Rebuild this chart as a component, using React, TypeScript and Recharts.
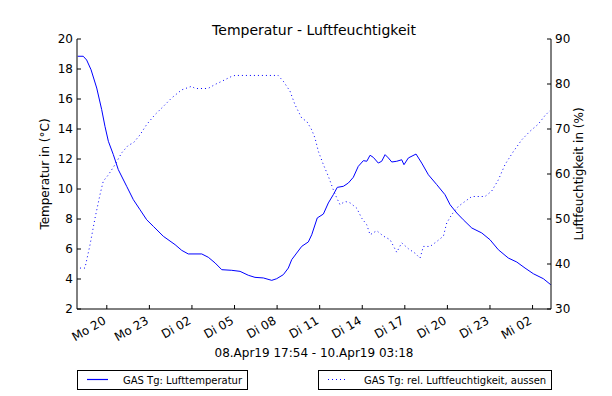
import React from 'react';
import { LineChart, Line, XAxis, YAxis } from 'recharts';

// hours counted from Mo 00:00
const tempHours = [17.95, 18.34, 18.58, 18.89, 19.29, 19.64, 19.87, 20.11, 20.46, 20.81, 21.4, 21.87, 22.34, 22.81, 23.28, 23.98, 24.81, 25.28, 25.74, 26.69, 27.15, 27.63, 28.1, 28.8, 29.39, 29.97, 30.44, 31.03, 31.62, 31.97, 32.44, 32.79, 33.03, 33.38, 33.74, 34.2, 34.44, 34.83, 35.26, 35.61, 35.96, 36.24, 36.67, 37.02, 37.37, 37.72, 38.08, 38.32, 38.55, 38.78, 39.13, 39.37, 39.61, 39.84, 40.08, 40.43, 40.78, 40.94, 41.25, 41.79, 42.19, 42.66, 43.25, 43.83, 44.19, 44.66, 45.12, 45.72, 46.42, 47.0, 47.59, 48.29, 48.89, 49.47, 50.06, 50.76, 51.28];
const tempValues = [18.85, 18.85, 18.6, 17.95, 16.73, 15.29, 14.18, 13.18, 12.29, 11.29, 10.18, 9.29, 8.62, 7.95, 7.51, 6.85, 6.29, 5.91, 5.67, 5.67, 5.45, 5.07, 4.62, 4.58, 4.51, 4.25, 4.11, 4.07, 3.91, 4.02, 4.29, 4.73, 5.29, 5.73, 6.18, 6.47, 6.95, 8.07, 8.33, 9.07, 9.62, 10.11, 10.18, 10.4, 10.78, 11.51, 11.89, 11.85, 12.25, 12.11, 11.73, 11.85, 12.29, 12.07, 11.8, 11.85, 11.95, 11.62, 12.07, 12.33, 11.73, 10.95, 10.29, 9.62, 8.95, 8.4, 7.95, 7.4, 7.07, 6.62, 5.95, 5.4, 5.13, 4.73, 4.35, 4.02, 3.62];

const humHours = [18.11, 18.46, 18.82, 19.17, 19.52, 19.75, 20.11, 20.58, 21.05, 21.52, 21.87, 22.34, 22.81, 23.4, 23.98, 24.57, 25.28, 25.98, 26.22, 27.13, 27.63, 28.1, 28.8, 29.03, 32.07, 32.44, 32.91, 33.26, 33.74, 34.09, 34.44, 34.67, 34.91, 35.26, 35.61, 35.96, 36.2, 36.43, 36.79, 37.14, 37.61, 37.96, 38.32, 38.55, 39.02, 39.49, 39.96, 40.43, 40.78, 41.25, 41.72, 42.07, 42.31, 42.78, 43.25, 43.72, 43.95, 44.31, 44.77, 45.24, 45.72, 46.65, 47.12, 47.59, 48.06, 48.65, 49.24, 49.82, 50.41, 50.88, 51.23];
const humValues = [39.1, 39.1, 44.3, 50.2, 55.4, 58.4, 59.8, 62.1, 64.7, 66.4, 66.9, 68.7, 71, 73.2, 75, 76.9, 78.7, 79.5, 79, 79, 79.9, 80.6, 81.7, 81.9, 81.9, 80.6, 78.4, 75.4, 72.4, 71.7, 69.8, 68, 65, 62.1, 59.5, 56.5, 54.7, 53.2, 53.9, 53.6, 52.4, 50.2, 48.7, 46.5, 47.4, 46.2, 45.4, 42.6, 44.7, 43.4, 42.4, 41.3, 43.9, 43.9, 45, 46.2, 49.1, 51, 52.8, 53.9, 55, 55, 56.2, 58.7, 62.1, 65, 67.6, 69.5, 71.1, 73, 74.1];

const xTicks = [20, 23, 26, 29, 32, 35, 38, 41, 44, 47, 50];
const xTickLabels = ['Mo 20', 'Mo 23', 'Di 02', 'Di 05', 'Di 08', 'Di 11', 'Di 14', 'Di 17', 'Di 20', 'Di 23', 'Mi 02'];
const tempTicks = [2, 4, 6, 8, 10, 12, 14, 16, 18, 20];
const humTicks = [30, 40, 50, 60, 70, 80, 90];

const tempData = tempHours.map((h, i) => ({ h, temp: tempValues[i] }));
const humData = humHours.map((h, i) => ({ h, hum: humValues[i] }));

const font = '"DejaVu Sans", sans-serif';
const blue = '#0000ff';

function XTick(props: any) {
  const { x, y, payload } = props;
  const label = xTickLabels[xTicks.indexOf(payload.value)];
  return (
    <text
      x={x}
      y={y + 10}
      textAnchor="end"
      fontSize={12}
      fontFamily={font}
      fill="#000"
      transform={`rotate(-30, ${x}, ${y + 10})`}
    >
      {label}
    </text>
  );
}

export default function App() {
  return (
    <div style={{ position: 'absolute', left: 0, top: 0, width: 612, height: 396, background: '#fff' }}>
      <LineChart width={612} height={396} margin={{ top: 39, right: 21, bottom: 57, left: 37 }}>
        <XAxis
          xAxisId="bottom"
          dataKey="h"
          type="number"
          domain={[17.9, 51.3]}
          ticks={xTicks}
          allowDataOverflow
          height={30}
          tickSize={-4}
          tickMargin={8}
          stroke="#000"
          tick={<XTick />}
        />
        <XAxis
          xAxisId="top"
          orientation="top"
          dataKey="h"
          type="number"
          domain={[17.9, 51.3]}
          ticks={xTicks}
          allowDataOverflow
          height={0}
          tickSize={-4}
          stroke="#000"
          tickFormatter={() => ''}
        />
        <YAxis
          yAxisId="temp"
          orientation="left"
          domain={[2, 20]}
          ticks={tempTicks}
          width={40}
          tickSize={-4}
          tickMargin={8}
          stroke="#000"
          tick={{ fill: '#000', fontSize: 12, fontFamily: font }}
        />
        <YAxis
          yAxisId="hum"
          orientation="right"
          domain={[30, 90]}
          ticks={humTicks}
          width={40}
          tickSize={-4}
          tickMargin={8}
          stroke="#000"
          tick={{ fill: '#000', fontSize: 12, fontFamily: font }}
        />
        <Line
          xAxisId="bottom"
          yAxisId="temp"
          data={tempData}
          dataKey="temp"
          type="linear"
          stroke={blue}
          strokeWidth={1}
          dot={false}
          isAnimationActive={false}
        />
        <Line
          xAxisId="bottom"
          yAxisId="hum"
          data={humData}
          dataKey="hum"
          type="linear"
          stroke={blue}
          strokeWidth={1}
          strokeDasharray="1 3"
          dot={false}
          isAnimationActive={false}
        />
      </LineChart>

      <svg width={612} height={396} style={{ position: 'absolute', left: 0, top: 0, pointerEvents: 'none' }} fontFamily={font}>
        <text x={314} y={35} textAnchor="middle" fontSize={14} fill="#000">Temperatur - Luftfeuchtigkeit</text>
        <text x={314} y={357} textAnchor="middle" fontSize={12} fill="#000">08.Apr19 17:54 - 10.Apr19 03:18</text>
        <text x={49} y={174} textAnchor="middle" fontSize={12} fill="#000" transform="rotate(-90, 49, 174)">Temperatur in (°C)</text>
        <text x={583} y={174} textAnchor="middle" fontSize={12} fill="#000" transform="rotate(-90, 583, 174)">Luftfeuchtigkeit in (%)</text>

        <rect x={77.5} y={370.5} width={170} height={19} fill="none" stroke="#000" />
        <line x1={87} x2={108} y1={379.5} y2={379.5} stroke={blue} strokeWidth={1.2} />
        <text x={123} y={383.5} fontSize={10} fill="#000">GAS Tg: Lufttemperatur</text>

        <rect x={318.5} y={370.5} width={233} height={19} fill="none" stroke="#000" />
        <line x1={328} x2={346} y1={379.5} y2={379.5} stroke={blue} strokeDasharray="1 3" />
        <text x={364} y={383.5} fontSize={10} fill="#000">GAS Tg: rel. Luftfeuchtigkeit, aussen</text>
      </svg>
    </div>
  );
}
